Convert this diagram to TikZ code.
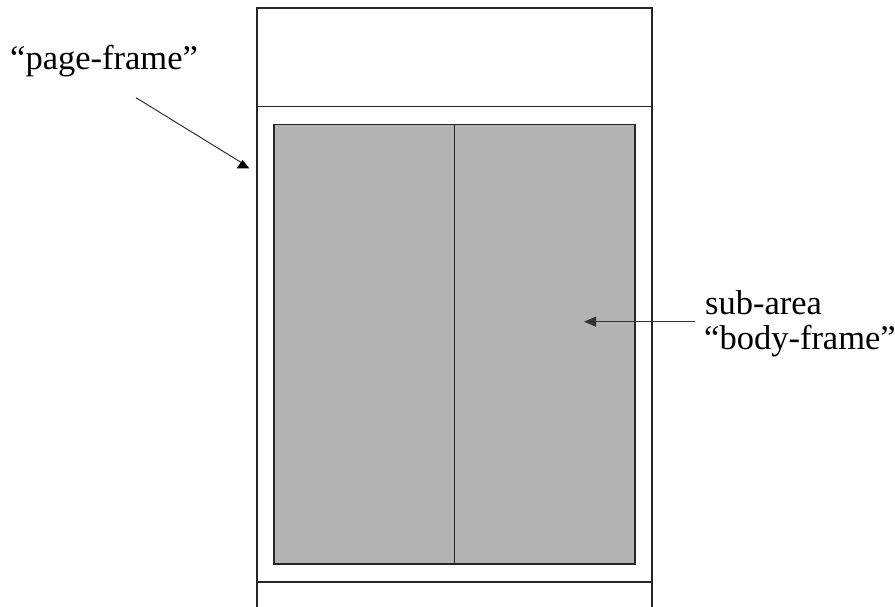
\documentclass[tikz,border=0pt]{standalone}
\usepackage{fontspec}
\setmainfont{Liberation Serif}
\usetikzlibrary{arrows.meta}
\definecolor{bodygray}{RGB}{179,179,179}
\tikzset{
  frameline/.style={draw=black!85, line width=1.3pt},
  bodybox/.style={fill=bodygray, draw=black!85, line width=1.3pt},
  labeltext/.style={inner sep=0pt, anchor=base west, font=\fontsize{34.5}{34.5}\selectfont},
  pointerline/.style={draw=black!80, line width=1pt},
  pointer/.style={pointerline, -{Triangle[length=12pt,width=10pt]}},
  headfill/.style={fill=black, draw=none}
}
\begin{document}
\begin{tikzpicture}[x=1pt,y=-1pt]
  \useasboundingbox (0,0) rectangle (895,607);
  % page frame (runs off the bottom edge)
  \draw[frameline] (257,607) -- (257,8) -- (652,8) -- (652,607);
  \draw[frameline] (257,106.5) -- (652,106.5);
  \draw[frameline] (257,582) -- (652,582);
  % body area with its two columns
  \draw[bodybox] (274,124.7) rectangle (635,564);
  \draw[frameline] (454.5,124.7) -- (454.5,564);
  % labels
  \node[labeltext] (pagelabel) at (10,70) {“page-frame”};
  \node[labeltext] (sublabel) at (705,314) {sub-area};
  \node[labeltext] (bodylabel) at (704,349) {“body-frame”};
  % pointer to the page frame, ending in an upright triangle
  \coordinate (pagetail) at (136,97.7);
  \coordinate (pagetip) at (244.5,164.5);
  \draw[pointerline] (pagetail) -- (pagetip);
  \fill[headfill] (242.5,160) -- (249.5,168.5) -- (236.5,168.5) -- cycle;
  % pointer to the body frame
  \coordinate (bodytail) at (695,321.7);
  \coordinate (bodytip) at (584,321.7);
  \draw[pointer] (bodytail) -- (bodytip);
\end{tikzpicture}
\end{document}
